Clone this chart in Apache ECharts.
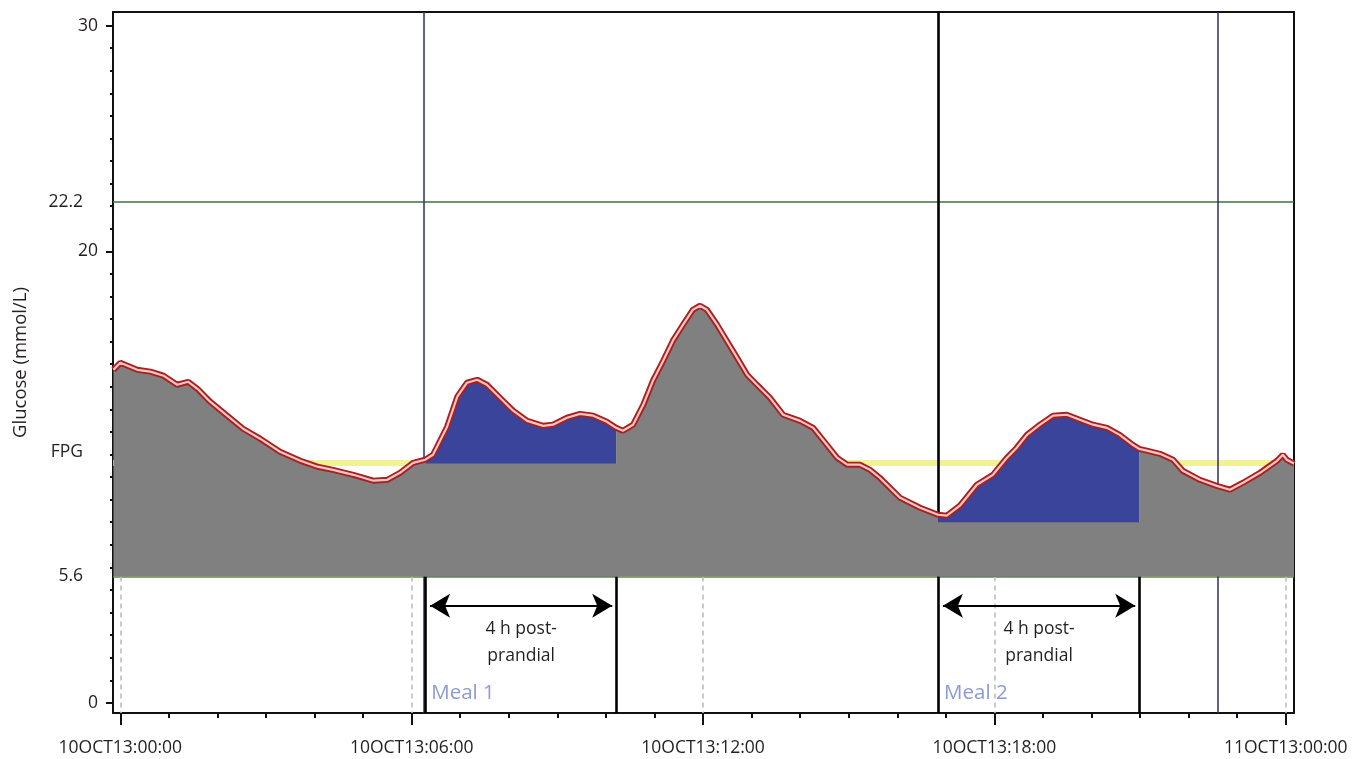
<!DOCTYPE html>
<html><head><meta charset="utf-8">
<script src="https://cdn.jsdelivr.net/npm/echarts@6/dist/echarts.min.js"></script>
<style>html,body{margin:0;padding:0;background:#fff}#c{width:1357px;height:759px}</style>
</head><body><div id="c"></div>
<script>
// ---- data (hours from 10OCT13 00:00, glucose in mmol/L) ----
const hours = [-0.14,0.00,0.35,0.62,0.89,1.17,1.40,1.59,1.85,2.20,2.53,2.88,3.29,3.71,4.06,4.38,4.80,5.21,5.50,5.76,6.03,
  6.28,6.44,6.73,6.94,7.14,7.35,7.55,7.82,8.09,8.38,8.71,8.91,9.20,9.47,9.74,10.02,10.21,
  10.35,10.56,10.77,10.97,11.18,11.38,11.59,11.79,11.94,12.08,12.29,12.49,12.70,12.91,13.11,13.38,13.65,14.00,14.27,14.55,14.76,14.97,15.23,15.44,15.64,16.06,16.47,
  16.84,17.02,17.29,17.64,17.97,18.26,18.46,18.67,18.94,19.21,19.49,19.76,20.03,20.32,20.58,20.85,20.98,
  21.14,21.41,21.68,21.88,22.23,22.58,22.85,23.12,23.47,23.82,23.94,24.02,24.17];
const glucose = [14.75,15.06,14.75,14.67,14.49,14.09,14.22,13.91,13.34,12.72,12.14,11.70,11.12,10.72,10.46,10.32,10.10,9.84,9.88,10.19,10.63,
  10.77,10.99,12.23,13.56,14.18,14.31,14.09,13.51,12.94,12.49,12.27,12.32,12.63,12.80,12.72,12.45,12.18,
  12.05,12.32,13.20,14.27,15.15,16.04,16.75,17.41,17.59,17.41,16.75,16.04,15.29,14.53,14.09,13.51,12.76,12.49,12.18,11.43,10.86,10.55,10.55,10.32,9.97,9.08,8.64,
  8.33,8.29,8.73,9.66,10.10,10.86,11.30,11.87,12.32,12.72,12.76,12.54,12.32,12.18,11.87,11.43,11.25,
  11.17,11.03,10.77,10.28,9.88,9.61,9.44,9.75,10.19,10.72,10.99,10.77,10.60];
const mealNames = ['Meal 1', 'Meal 2'];
const mealStart = [6.28, 16.84];
const mealEnd = [10.21, 20.98];
const mealBaseline = [10.6, 8.0];
const markerHours = [6.24, 22.6];
const xTickHours = [0, 6, 12, 18, 24];
const xTickLabels = ['10OCT13:00:00', '10OCT13:06:00', '10OCT13:12:00', '10OCT13:18:00', '11OCT13:00:00'];
const yMainTicks = [0, 20, 30];
const lowLimit = 5.6;
const highLimit = 22.2;
const fpg = 10.63;
const annotationText = '4 h post-\nprandial';

// ---- derived ----
const X_MIN = -0.15, X_MAX = 24.17, Y_MIN = -0.45, Y_MAX = 30.6;
const FONT = 'Open Sans';
const TXT = '#231f20';
const curve = hours.map((h, i) => [h, glucose[i]]);
function windowOf(h) {
  for (let k = 0; k < mealStart.length; k++) if (h >= mealStart[k] && h <= mealEnd[k]) return k;
  return -1;
}
const grayTop = [];
hours.forEach((h, i) => {
  const k = windowOf(h);
  if (k < 0) { grayTop.push([h, glucose[i]]); return; }
  if (h === mealStart[k]) { grayTop.push([h, glucose[i]]); grayTop.push([h, mealBaseline[k]]); }
  else if (h === mealEnd[k]) { grayTop.push([h, mealBaseline[k]]); grayTop.push([h, glucose[i]]); }
  else grayTop.push([h, mealBaseline[k]]);
});
const blueSeries = mealStart.map((s, k) => ({
  type: 'line', name: 'iAUC ' + mealNames[k], z: 3, silent: true, symbol: 'none',
  data: curve.filter(p => p[0] >= s && p[0] <= mealEnd[k]),
  lineStyle: { width: 0 }, areaStyle: { color: '#39449a', opacity: 1, origin: lowLimit }
}));
const intHours = []; for (let h = 0; h <= 24; h++) intHours.push(h);
const intGlu = []; for (let g = 0; g <= 30; g++) intGlu.push(g);

const seg = (x, y1, y2, style) => [{ coord: [x, y1], lineStyle: style }, { coord: [x, y2] }];
const blackThick = { color: '#000', width: 2.6, type: 'solid' };
const refLines = [
  { yAxis: highLimit, lineStyle: { color: '#3f6f3f', width: 1.6, type: 'solid' } },
  { yAxis: lowLimit, lineStyle: { color: '#5c8a3c', width: 1.6, type: 'solid' } },
  { yAxis: fpg, lineStyle: { color: '#f1f196', width: 6, type: 'solid' } },
  ...markerHours.map(h => ({ xAxis: h, lineStyle: { color: '#2b3060', width: 1.5, type: 'solid' } })),
  { xAxis: mealStart[1], lineStyle: blackThick },
  ...xTickHours.map(h => seg(h, lowLimit, Y_MIN, { color: '#bdbdbd', width: 1.6, type: [5, 4] })),
  seg(mealStart[0], lowLimit, Y_MIN, blackThick),
  ...mealEnd.map(h => seg(h, lowLimit, Y_MIN, blackThick))
];
const arrows = mealStart.map((s, k) => [
  { coord: [s + 0.1, 4.3] }, { coord: [mealEnd[k] - 0.08, 4.3] }
]);

const chart = echarts.init(document.getElementById('c'));
chart.setOption({
  animation: false,
  grid: { left: 113, right: 63, top: 12, bottom: 46, containLabel: false, outerBoundsMode: 'none' },
  xAxis: [
    { type: 'value', min: X_MIN, max: X_MAX, position: 'bottom',
      axisLine: { show: true, onZero: false, lineStyle: { color: '#111', width: 2 } },
      axisTick: { show: true, customValues: xTickHours, length: 12, lineStyle: { color: '#111', width: 2 } },
      axisLabel: { show: true, customValues: xTickHours, margin: 26, fontFamily: FONT, fontSize: 17.5, color: TXT,
        formatter: v => xTickLabels[xTickHours.indexOf(v)] },
      splitLine: { show: false } },
    { type: 'value', min: X_MIN, max: X_MAX, position: 'bottom',
      axisLine: { show: false, onZero: false },
      axisTick: { show: true, customValues: intHours, length: 5, lineStyle: { color: '#111', width: 2 } },
      axisLabel: { show: false }, splitLine: { show: false } },
    { type: 'value', min: X_MIN, max: X_MAX, position: 'top',
      axisLine: { show: true, onZero: false, lineStyle: { color: '#111', width: 2 } },
      axisTick: { show: false }, axisLabel: { show: false }, splitLine: { show: false } }
  ],
  yAxis: [
    { type: 'value', min: Y_MIN, max: Y_MAX, position: 'left',
      name: 'Glucose (mmol/L)', nameLocation: 'middle', nameGap: 83,
      nameTextStyle: { fontFamily: FONT, fontSize: 18.5, color: TXT },
      axisLine: { show: true, onZero: false, lineStyle: { color: '#111', width: 2 } },
      axisTick: { show: true, customValues: yMainTicks, length: 7, lineStyle: { color: '#111', width: 2 } },
      axisLabel: { show: true, customValues: yMainTicks, margin: 15, fontFamily: FONT, fontSize: 17.5, color: TXT },
      splitLine: { show: false } },
    { type: 'value', min: Y_MIN, max: Y_MAX, position: 'left',
      axisLine: { show: false, onZero: false },
      axisTick: { show: true, customValues: intGlu, length: 3, lineStyle: { color: '#111', width: 2 } },
      axisLabel: { show: true, customValues: [lowLimit, fpg, highLimit], margin: 30, fontFamily: FONT, fontSize: 17.5, color: TXT,
        formatter: v => v === fpg ? '{f|FPG}' : String(v),
        rich: { f: { fontFamily: FONT, fontSize: 17.5, color: TXT, padding: [0, 0, 22, 0] } } },
      splitLine: { show: false } },
    { type: 'value', min: Y_MIN, max: Y_MAX, position: 'right',
      axisLine: { show: true, onZero: false, lineStyle: { color: '#111', width: 2 } },
      axisTick: { show: false }, axisLabel: { show: false }, splitLine: { show: false } }
  ],
  series: [
    { type: 'line', name: 'refs', z: 1, data: [], silent: true,
      markLine: { z: 1, silent: true, symbol: ['none', 'none'], label: { show: false }, animation: false, data: refLines },
      markPoint: { z: 1, silent: true, symbol: 'circle', symbolSize: 0, animation: false,
        data: mealStart.map((s, k) => ({ coord: [s, 0.44], name: mealNames[k],
          label: { show: true, position: 'right', distance: 6, formatter: mealNames[k], fontFamily: FONT, fontSize: 20.5, color: '#8c9ad6' } })) } },
    { type: 'line', name: 'arrows', z: 8, data: [], silent: true,
      markLine: { z: 8, silent: true, symbol: ['arrow', 'arrow'], symbolSize: [18, 20], animation: false,
        lineStyle: { color: '#000', width: 2.2, type: 'solid' },
        label: { show: true, position: 'insideMiddleBottom', distance: 10, formatter: annotationText,
          fontFamily: FONT, fontSize: 17.5, lineHeight: 27, color: TXT },
        data: arrows } },
    ...blueSeries,
    { type: 'line', name: 'glucose area', z: 4, silent: true, symbol: 'none', data: grayTop,
      lineStyle: { width: 0 }, areaStyle: { color: '#808080', opacity: 1, origin: lowLimit } },
    { type: 'line', name: 'glucose edge', z: 5, silent: true, symbol: 'none', data: curve,
      lineStyle: { color: '#a8201f', width: 6 } },
    { type: 'line', name: 'glucose core', z: 6, silent: true, symbol: 'none', data: curve,
      lineStyle: { color: '#f6c4c2', width: 2.2 } }
  ]
});
</script></body></html>
